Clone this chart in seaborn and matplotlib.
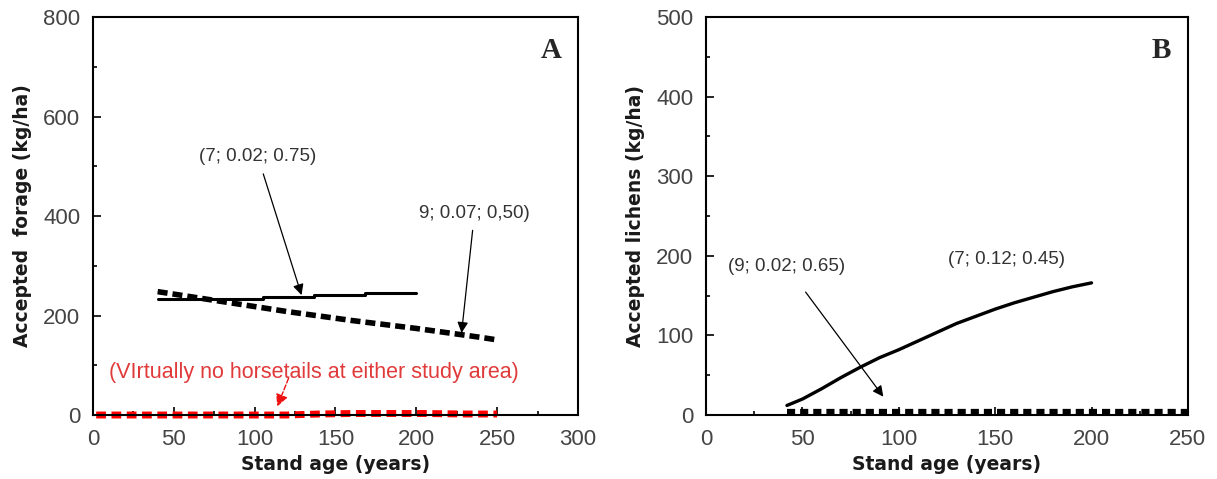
import numpy as np
import pandas as pd
import matplotlib
matplotlib.use("Agg")
import matplotlib.pyplot as plt
from matplotlib.ticker import MultipleLocator
import seaborn as sns

# ---- Panel A: accepted forage (kg/ha) vs stand age ----
forage_solid_age = [40, 105, 137, 168, 200]
forage_solid_val = [233, 238, 242, 246, 246]

forage_dash_age = [40, 60, 80, 100, 120, 140, 160, 180, 200, 220, 240, 250]
forage_dash_val = [248, 238, 228, 218, 208, 199, 190, 182, 174, 165, 156, 151]

horsetail_age = [2, 40, 80, 120, 140, 160, 180, 205, 230, 250]
horsetail_val = [0, 0, 0, 0, 2, 3, 3, 3, 2, 2]

# ---- Panel B: accepted lichens (kg/ha) vs stand age ----
lichen_solid_age = [42, 50, 60, 70, 80, 90, 100, 110, 120, 130, 140, 150, 160, 170, 180, 190, 200]
lichen_solid_val = [12, 20, 33, 47, 60, 72, 82, 93, 104, 115, 124, 133, 141, 148, 155, 161, 166]

lichen_dot_age = [42, 100, 150, 200, 250]
lichen_dot_val = [4, 4, 4, 4, 4]

sns.set_style("ticks")
plt.rcParams["font.family"] = ["Liberation Sans", "DejaVu Sans"]

fig = plt.figure(figsize=(12.17, 4.79), dpi=100)
axA = fig.add_axes([0.0764, 0.1336, 0.3985, 0.8309])
axB = fig.add_axes([0.5801, 0.1336, 0.3960, 0.8309])

label_font = dict(family="DejaVu Sans", weight="bold", size=13.5, color="#1a1a1a")
tick_color = "#444444"


def style_axes(ax, xmax, xmajor, ymax, ymajor, yminor):
    ax.set_xlim(0, xmax)
    ax.set_ylim(0, ymax)
    ax.xaxis.set_major_locator(MultipleLocator(xmajor))
    ax.xaxis.set_minor_locator(MultipleLocator(25))
    ax.yaxis.set_major_locator(MultipleLocator(ymajor))
    ax.yaxis.set_minor_locator(MultipleLocator(yminor))
    ax.tick_params(which="both", direction="in", top=False, right=False,
                   color="black", width=1.2)
    ax.tick_params(which="major", length=6, labelsize=16, labelcolor=tick_color)
    ax.tick_params(axis="x", which="major", pad=10)
    ax.tick_params(axis="y", which="major", pad=9)
    ax.tick_params(which="minor", length=3)
    for s in ax.spines.values():
        s.set_visible(True)
        s.set_linewidth(1.5)
        s.set_color("black")
    ax.set_xlabel("Stand age (years)", fontdict=label_font, labelpad=4)


# Panel A
sns.lineplot(x=forage_solid_age, y=forage_solid_val, ax=axA, color="black",
             linewidth=2.2, drawstyle="steps-post", estimator=None, sort=False)
sns.lineplot(x=forage_dash_age, y=forage_dash_val, ax=axA, color="black",
             linewidth=4.0, linestyle=(0, (1.8, 0.9)), estimator=None, sort=False)
sns.lineplot(x=horsetail_age, y=horsetail_val, ax=axA, color="#ff0000",
             linewidth=5.0, linestyle=(0, (1.4, 0.8)), estimator=None, sort=False,
             clip_on=False)
style_axes(axA, 300, 50, 800, 200, 100)
axA.set_ylabel("Accepted  forage (kg/ha)", fontdict=label_font, labelpad=8)

ann_font = dict(fontsize=13.5, color="#333333", family="Liberation Sans")
axA.annotate("(7; 0.02; 0.75)", xy=(129, 241), xytext=(102, 519),
             ha="center", va="center", **ann_font,
             arrowprops=dict(arrowstyle="-|>", color="black", lw=0.9,
                             shrinkA=4, shrinkB=0, mutation_scale=16))
axA.annotate("9; 0.07; 0,50)", xy=(228, 165), xytext=(236, 406),
             ha="center", va="center", **ann_font,
             arrowprops=dict(arrowstyle="-|>", color="black", lw=0.9,
                             shrinkA=4, shrinkB=0, mutation_scale=16))
axA.annotate("", xy=(114, 17), xytext=(121, 74),
             arrowprops=dict(arrowstyle="-|>", color="#ee1111", lw=1.0,
                             linestyle="--", shrinkA=0, shrinkB=0, mutation_scale=18))
axA.text(10, 86, "(VIrtually no horsetails at either study area)", color="#e03a3a",
         fontsize=15.5, family="Liberation Sans", ha="left", va="center")
axA.text(0.945, 0.915, "A", transform=axA.transAxes, fontsize=21, weight="bold",
         family="Liberation Serif", ha="center", va="center")

# Panel B
sns.lineplot(x=lichen_solid_age, y=lichen_solid_val, ax=axB, color="black",
             linewidth=2.4, estimator=None, sort=False)
sns.lineplot(x=lichen_dot_age, y=lichen_dot_val, ax=axB, color="black",
             linewidth=4.5, linestyle=(0, (1.3, 0.8)), estimator=None, sort=False,
             clip_on=False)
style_axes(axB, 250, 50, 500, 100, 50)
axB.set_ylabel("Accepted lichens (kg/ha)", fontdict=label_font, labelpad=8)

axB.annotate("(9; 0.02; 0.65)", xy=(92, 23), xytext=(42, 186),
             ha="center", va="center", **ann_font,
             arrowprops=dict(arrowstyle="-|>", color="black", lw=0.9,
                             shrinkA=12, shrinkB=0, mutation_scale=16))
axB.text(156, 195, "(7; 0.12; 0.45)", ha="center", va="center", **ann_font)
axB.text(0.945, 0.915, "B", transform=axB.transAxes, fontsize=21, weight="bold",
         family="Liberation Serif", ha="center", va="center")

fig.savefig("out.png", dpi=100)
